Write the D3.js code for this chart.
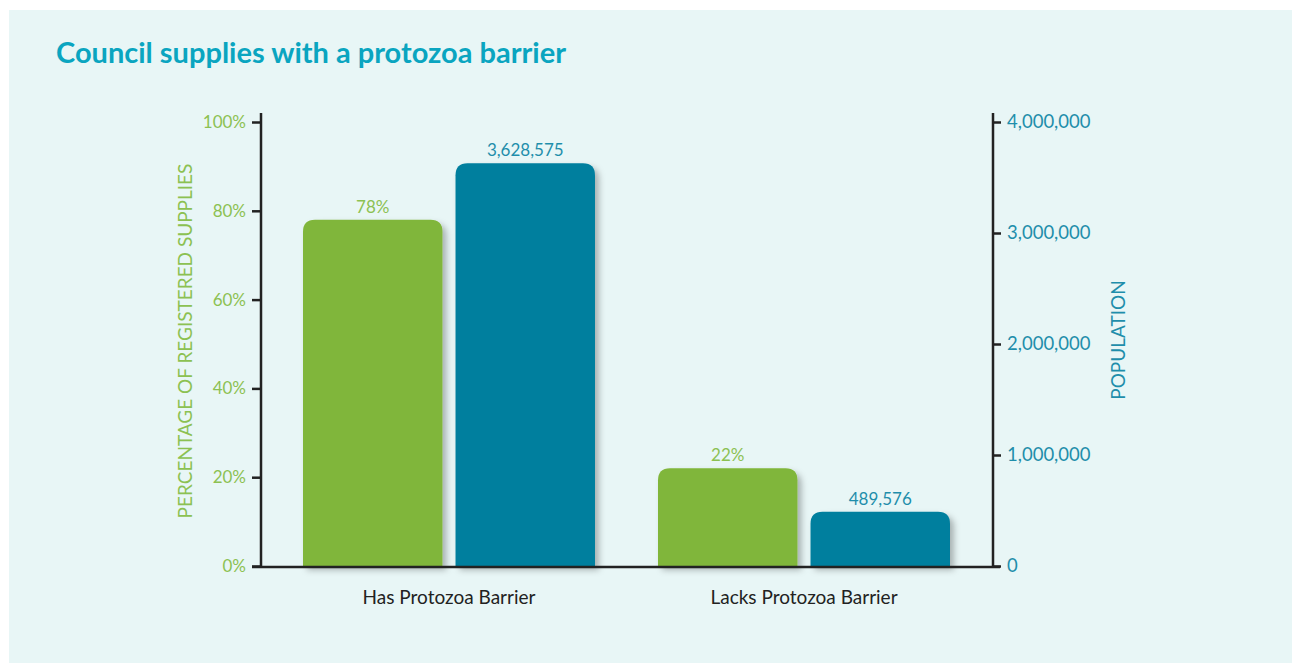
<!DOCTYPE html>
<html>
<head>
<meta charset="utf-8">
<script src="https://cdn.jsdelivr.net/npm/d3@7"></script>
<style>
  body { margin: 0; background: #fff; }
  svg { display: block; }
</style>
</head>
<body>
<div class="chart"></div>
<script>
var categories = ["Has Protozoa Barrier", "Lacks Protozoa Barrier"];
var percentValues = [78, 22];
var populationValues = [3628575, 489576];
var percentTicks = [0, 20, 40, 60, 80, 100];
var populationTicks = [0, 1000000, 2000000, 3000000, 4000000];

var width = 1292, height = 663;
var green = "#80b63a", blue = "#007f9e";
var font = "Lato, 'Open Sans', sans-serif";

var svg = d3.select(".chart").append("svg")
  .attr("width", width).attr("height", height)
  .style("font-family", font);

var defs = svg.append("defs");
var f = defs.append("filter").attr("id", "shadow")
  .attr("x", "-10%").attr("y", "-10%").attr("width", "130%").attr("height", "130%");
f.append("feDropShadow").attr("dx", 4).attr("dy", 4).attr("stdDeviation", 3)
  .attr("flood-color", "#000").attr("flood-opacity", 0.28);

svg.append("rect").attr("x", 9).attr("y", 10)
  .attr("width", width - 9).attr("height", height - 10)
  .attr("fill", "#e8f6f6");

svg.append("text").attr("x", 56).attr("y", 63)
  .attr("fill", "#0aa5c0").attr("font-size", 29).attr("font-weight", "bold")
  .text("Council supplies with a protozoa barrier");

var plotLeft = 261, plotRight = 993, plotTop = 122, plotBottom = 566;

// group layout
var x0 = d3.scaleBand().domain(categories).range([303, 950]).paddingInner(0.1775);
var x1 = d3.scaleBand().domain(["pct", "pop"]).range([0, x0.bandwidth()])
  .paddingInner(0.0855);

var yL = d3.scaleLinear().domain([0, 100]).range([plotBottom, plotTop]);
var yR = d3.scaleLinear().domain([0, 4000000]).range([plotBottom, plotTop]);

// bars
var r = 12;
function barPath(x, y, w, h) {
  return "M" + x + "," + (y + h) + "V" + (y + r) +
    "Q" + x + "," + y + " " + (x + r) + "," + y +
    "H" + (x + w - r) + "Q" + (x + w) + "," + y + " " + (x + w) + "," + (y + r) +
    "V" + (y + h) + "Z";
}

var groups = svg.selectAll(".grp").data(categories).enter().append("g")
  .attr("transform", function(d) { return "translate(" + x0(d) + ",0)"; });

groups.append("path")
  .attr("d", function(d, i) {
    var y = yL(percentValues[i]);
    return barPath(x1("pct"), y, x1.bandwidth(), plotBottom - y);
  })
  .attr("fill", green).attr("filter", "url(#shadow)");

groups.append("path")
  .attr("d", function(d, i) {
    var y = yR(populationValues[i]);
    return barPath(x1("pop"), y, x1.bandwidth(), plotBottom - y);
  })
  .attr("fill", blue).attr("filter", "url(#shadow)");

groups.append("text")
  .attr("x", x1("pct") + x1.bandwidth() / 2)
  .attr("y", function(d, i) { return yL(percentValues[i]) - 7; })
  .attr("text-anchor", "middle").attr("fill", "#8cc152").attr("font-size", 17)
  .text(function(d, i) { return percentValues[i] + "%"; });

groups.append("text")
  .attr("x", x1("pop") + x1.bandwidth() / 2)
  .attr("y", function(d, i) { return yR(populationValues[i]) - 7; })
  .attr("text-anchor", "middle").attr("fill", "#1f8eab").attr("font-size", 17)
  .text(function(d, i) { return d3.format(",")(populationValues[i]); });

// axes
var axisL = d3.axisLeft(yL).tickValues(percentTicks).tickSize(9).tickPadding(6)
  .tickFormat(function(d) { return d + "%"; });
var gL = svg.append("g").attr("transform", "translate(" + plotLeft + ",0)").call(axisL);
gL.select(".domain").remove();
gL.selectAll(".tick line").attr("stroke", "#222").attr("stroke-width", 2.5);
gL.selectAll(".tick text").attr("fill", "#8cc152").attr("font-size", 17)
  .style("font-family", font);

var axisR = d3.axisRight(yR).tickValues(populationTicks).tickSize(8).tickPadding(6)
  .tickFormat(d3.format(","));
var gR = svg.append("g").attr("transform", "translate(" + plotRight + ",0)").call(axisR);
gR.select(".domain").remove();
gR.selectAll(".tick line").attr("stroke", "#222").attr("stroke-width", 2.5);
gR.selectAll(".tick text").attr("fill", "#1f8eab").attr("font-size", 18.5)
  .style("font-family", font);

svg.append("line").attr("x1", plotLeft).attr("x2", plotLeft).attr("y1", 113).attr("y2", plotBottom + 1)
  .attr("stroke", "#222").attr("stroke-width", 2.5);
svg.append("line").attr("x1", plotRight).attr("x2", plotRight).attr("y1", 113).attr("y2", plotBottom + 1)
  .attr("stroke", "#222").attr("stroke-width", 2.5);
svg.append("line").attr("x1", 252).attr("x2", 1000).attr("y1", plotBottom + 1).attr("y2", plotBottom + 1)
  .attr("stroke", "#222").attr("stroke-width", 2.5);

// category labels
svg.selectAll(".cat").data(categories).enter().append("text")
  .attr("x", function(d) { return x0(d) + x0.bandwidth() / 2; })
  .attr("y", 604).attr("text-anchor", "middle")
  .attr("fill", "#222").attr("font-size", 19)
  .text(function(d) { return d; });

// axis titles
svg.append("text").attr("transform", "translate(192,341) rotate(-90)")
  .attr("text-anchor", "middle").attr("fill", "#8cc152").attr("font-size", 19)
  .text("PERCENTAGE OF REGISTERED SUPPLIES");
svg.append("text").attr("transform", "translate(1125,340) rotate(-90)")
  .attr("text-anchor", "middle").attr("fill", "#1f8eab").attr("font-size", 19)
  .text("POPULATION");
</script>
</body>
</html>
